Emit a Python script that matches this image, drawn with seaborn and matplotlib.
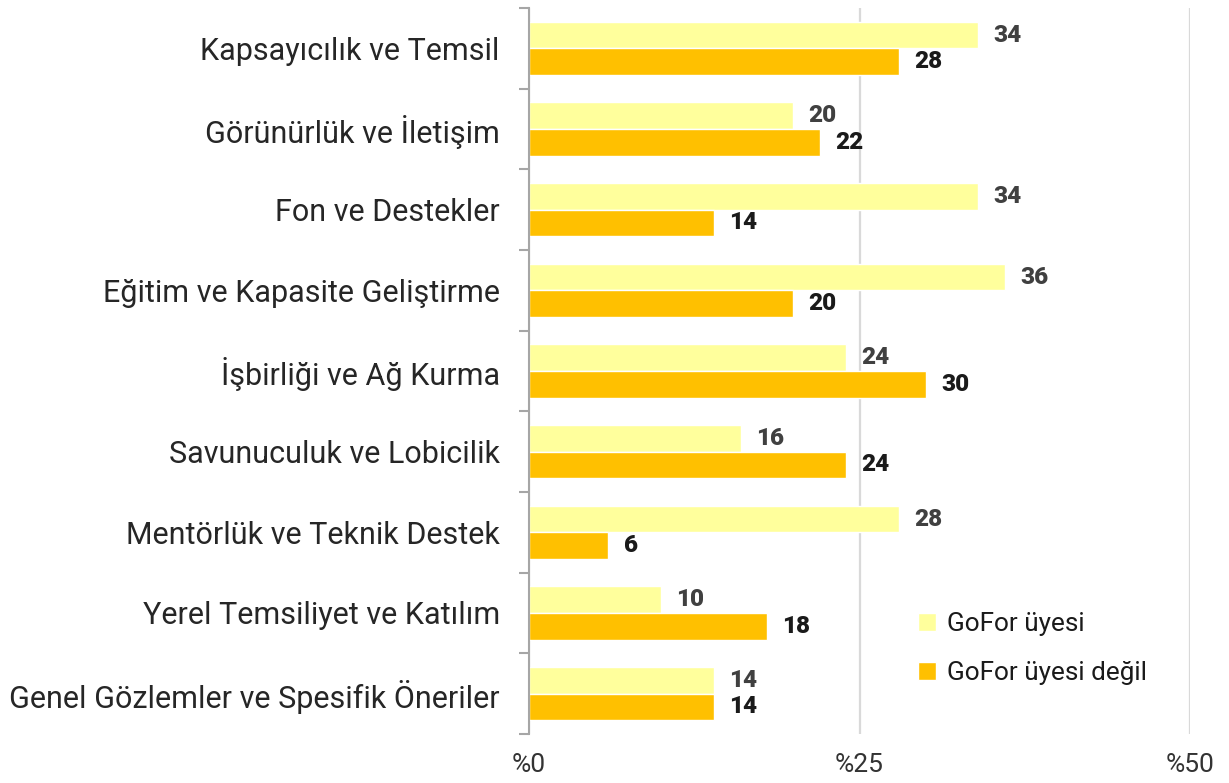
import matplotlib
matplotlib.use("Agg")
import matplotlib.pyplot as plt
from matplotlib.ticker import FixedLocator
import pandas as pd
import seaborn as sns

categories = [
    "Kapsayıcılık ve Temsil",
    "Görünürlük ve İletişim",
    "Fon ve Destekler",
    "Eğitim ve Kapasite Geliştirme",
    "İşbirliği ve Ağ Kurma",
    "Savunuculuk ve Lobicilik",
    "Mentörlük ve Teknik Destek",
    "Yerel Temsiliyet ve Katılım",
    "Genel Gözlemler ve Spesifik Öneriler",
]
members = [34, 20, 34, 36, 24, 16, 28, 10, 14]
non_members = [28, 22, 14, 20, 30, 24, 6, 18, 14]
series_names = ["GoFor üyesi", "GoFor üyesi değil"]
x_ticks = [0, 25, 50]
x_tick_labels = ["%0", "%25", "%50"]

df = pd.DataFrame({
    "kategori": categories * 2,
    "deger": members + non_members,
    "grup": [series_names[0]] * len(categories) + [series_names[1]] * len(categories),
})

sns.set_theme(style="white")
plt.rcParams["font.family"] = ["Roboto", "DejaVu Sans"]

fig = plt.figure(figsize=(12.29, 7.83), dpi=100)
ax = fig.add_axes([0.4304, 0.0626, 0.9683 - 0.4304, 0.9898 - 0.0626])

palette = {series_names[0]: "#FFFF9C", series_names[1]: "#FFC000"}
sns.barplot(data=df, y="kategori", x="deger", hue="grup", order=categories,
            hue_order=series_names, palette=palette, width=0.66,
            saturation=1, orient="h", ax=ax)

label_colors = ["#404040", "#1a1a1a"]
for cont, col in zip(ax.containers, label_colors):
    ax.bar_label(cont, fmt="%d", padding=11, fontsize=17.5,
                 fontweight="black", color=col)

ax.set_xlim(0, 50)
ax.set_ylim(len(categories) - 0.5, -0.5)
ax.set_xticks(x_ticks)
ax.set_xticklabels(x_tick_labels, fontsize=19, color="#333333")
ax.tick_params(axis="x", length=0, pad=14)
ax.set_xlabel("")
ax.set_ylabel("")
ax.tick_params(axis="y", which="major", length=0, pad=21, labelsize=22,
               labelcolor="#262626")
ax.yaxis.set_minor_locator(FixedLocator([i - 0.5 for i in range(len(categories) + 1)]))
ax.tick_params(axis="y", which="minor", length=7, width=1.5, color="#A6A6A6",
               direction="out", left=True)

ax.grid(axis="x", color="#D9D9D9", linewidth=1.6)
ax.set_axisbelow(True)
for side in ["top", "right", "bottom"]:
    ax.spines[side].set_visible(False)
ax.spines["left"].set_color("#A6A6A6")
ax.spines["left"].set_linewidth(1.5)

handles, labels = ax.get_legend_handles_labels()
ax.legend(handles, labels, loc="lower right", bbox_to_anchor=(0.97, 0.035),
          frameon=False, fontsize=18.8, handlelength=0.7, handleheight=0.7,
          handletextpad=0.4, labelspacing=0.95, labelcolor="#1a1a1a")

fig.savefig("out.png", dpi=100)
